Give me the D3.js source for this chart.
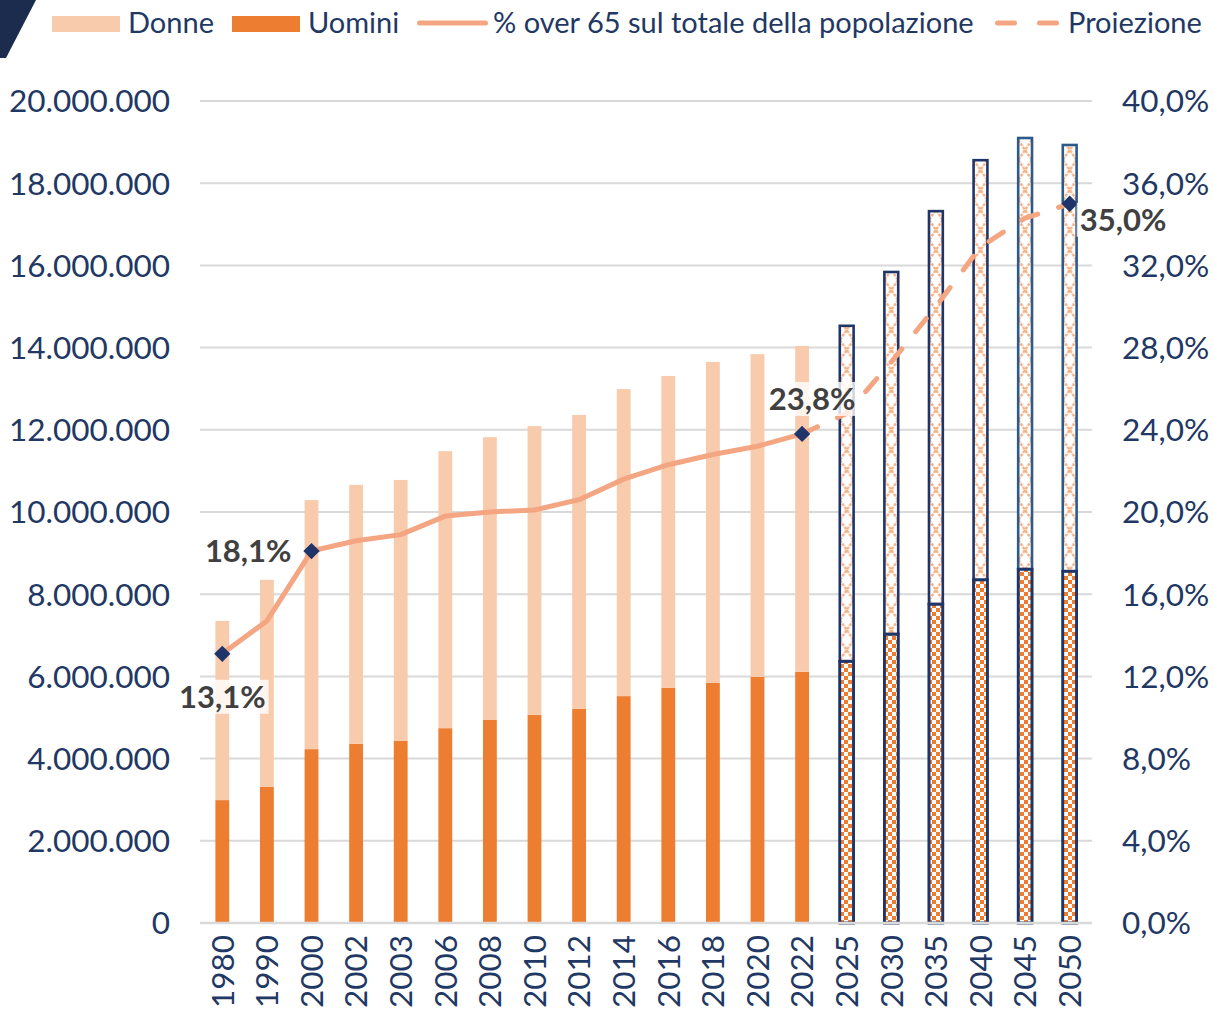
<!DOCTYPE html>
<html><head><meta charset="utf-8">
<script src="https://cdn.jsdelivr.net/npm/d3@7"></script>
<style>
html,body{margin:0;padding:0;background:#fff;}
text{font-family:Lato, "Noto Sans", sans-serif;}
</style></head>
<body>
<svg id="chart" width="1214" height="1011"></svg>
<script>
// ---------- DATA ----------
const years = ["1980","1990","2000","2002","2003","2006","2008","2010","2012","2014","2016","2018","2020","2022","2025","2030","2035","2040","2045","2050"];
const men   = [2990000,3310000,4230000,4360000,4430000,4740000,4940000,5060000,5210000,5520000,5720000,5840000,5990000,6110000,6370000,7030000,7760000,8350000,8610000,8560000];
const women = [4360000,5040000,6060000,6300000,6350000,6740000,6880000,7030000,7150000,7470000,7590000,7810000,7850000,7930000,8160000,8810000,9560000,10210000,10490000,10370000];
const projectedYears = ["2025","2030","2035","2040","2045","2050"];
const pctYears = ["1980","1990","2000","2002","2003","2006","2008","2010","2012","2014","2016","2018","2020","2022"];
const pctValues = [13.1,14.7,18.1,18.6,18.9,19.8,20.0,20.1,20.6,21.6,22.3,22.8,23.2,23.8];
const projYears = ["2022","2025","2030","2035","2040","2045","2050"];
const projValues = [23.8,24.8,27.3,30.0,32.9,34.3,35.0];
const markedYears = ["1980","2000","2022","2050"];
const leftTicks = [0,2000000,4000000,6000000,8000000,10000000,12000000,14000000,16000000,18000000,20000000];
const rightTicks = [0,4,8,12,16,20,24,28,32,36,40];
const legendLabels = ["Donne","Uomini","% over 65 sul totale della popolazione","Proiezione"];

// ---------- SETUP ----------
const svg = d3.select("#chart");
const C = {women:"#F8CBAD", men:"#ED7D31", line:"#F4A582", navy:"#1F3468", navy2:"#2E5A8A", grid:"#D9D9D9", tick:"#1F3864", label:"#404040"};
const FS = 31.5;
const itLocale = d3.formatLocale({decimal:",", thousands:".", grouping:[3], currency:["€",""]});
const fmtInt = itLocale.format(",d");
const fmtPct = itLocale.format(".1f");

const L = 200, R = 1092, T = 101, B = 923;
const x = d3.scaleBand().domain(years).range([L,R]).paddingInner(0.69).paddingOuter(0.345);
const y = d3.scaleLinear().domain([0,20000000]).range([B,T]);
const y2 = d3.scaleLinear().domain([0,40]).range([B,T]);
const cx = d => x(d) + x.bandwidth()/2;

const data = years.map((yr,i)=>({year:yr, men:men[i], women:women[i], proj: projectedYears.includes(yr)}));

// corner decoration
svg.append("polygon").attr("points","0,0 36,0 6,58 0,58").attr("fill","#1B2C4E");

// defs / patterns
const defs = svg.append("defs");
const checker = defs.append("pattern").attr("id","checker").attr("patternUnits","userSpaceOnUse")
  .attr("width",8).attr("height",8);
checker.append("rect").attr("width",8).attr("height",8).attr("fill","#fff");
checker.append("rect").attr("width",4).attr("height",4).attr("fill",C.men);
checker.append("rect").attr("x",4).attr("y",4).attr("width",4).attr("height",4).attr("fill",C.men);

data.filter(d=>d.proj).forEach(d=>{
  const w = x.bandwidth();
  const p = defs.append("pattern").attr("id","cross"+d.year).attr("patternUnits","userSpaceOnUse")
    .attr("x", x(d.year)).attr("y", 0).attr("width", w).attr("height", 20);
  p.append("rect").attr("width",w).attr("height",20).attr("fill","#fff");
  p.append("path").attr("d",`M0,0 L${w},20 M${w},0 L0,20`)
    .attr("stroke","#F4B183").attr("stroke-width",2.4).attr("stroke-dasharray","3,1.2").attr("fill","none");
});

// grid
svg.append("g").selectAll("line").data(leftTicks).join("line")
  .attr("x1",L).attr("x2",R).attr("y1",d=>y(d)).attr("y2",d=>y(d))
  .attr("stroke",C.grid).attr("stroke-width",2);

// left tick labels
svg.append("g").selectAll("text").data(leftTicks).join("text")
  .attr("x",170).attr("y",d=>y(d))
  .attr("dy","0.36em").attr("text-anchor","end")
  .attr("font-size",FS).attr("fill",C.tick).text(d=>fmtInt(d));

// right tick labels
svg.append("g").selectAll("text").data(rightTicks).join("text")
  .attr("x",1122).attr("y",d=>y2(d))
  .attr("dy","0.36em").attr("text-anchor","start")
  .attr("font-size",FS).attr("fill",C.tick).text(d=>fmtPct(d)+"%");

// x labels
svg.append("g").selectAll("text").data(years).join("text")
  .attr("transform",d=>`translate(${cx(d)},935) rotate(-90)`)
  .attr("dy","0.36em").attr("text-anchor","end")
  .attr("font-size",FS).attr("fill",C.tick).text(d=>d);

// bars
const bars = svg.append("g");
bars.selectAll("rect.men").data(data).join("rect").attr("class","men")
  .attr("x",d=>x(d.year)).attr("width",x.bandwidth())
  .attr("y",d=>y(d.men)).attr("height",d=>y(0)-y(d.men))
  .attr("fill",d=>d.proj?"url(#checker)":C.men)
  .attr("stroke",d=>d.proj?C.navy:"none").attr("stroke-width",2.6);
bars.selectAll("rect.women").data(data).join("rect").attr("class","women")
  .attr("x",d=>x(d.year)).attr("width",x.bandwidth())
  .attr("y",d=>y(d.men+d.women)).attr("height",d=>y(d.men)-y(d.men+d.women))
  .attr("fill",d=>d.proj?`url(#cross${d.year})`:C.women)
  .attr("stroke",d=>d.proj?((d.year==="2045"||d.year==="2050")?C.navy2:C.navy):"none").attr("stroke-width",2.6);
bars.selectAll("rect.menOutline").data(data.filter(d=>d.proj)).join("rect").attr("class","menOutline")
  .attr("x",d=>x(d.year)).attr("width",x.bandwidth())
  .attr("y",d=>y(d.men)).attr("height",d=>y(0)-y(d.men))
  .attr("fill","none").attr("stroke",C.navy).attr("stroke-width",2.6);

// axis line
svg.append("line").attr("x1",L).attr("x2",R).attr("y1",B).attr("y2",B).attr("stroke",C.grid).attr("stroke-width",2.5);

// lines
const lineGen = d3.line().x(d=>cx(d[0])).y(d=>y2(d[1]));
svg.append("path").datum(pctYears.map((yr,i)=>[yr,pctValues[i]]))
  .attr("d",lineGen).attr("fill","none").attr("stroke",C.line).attr("stroke-width",5)
  .attr("stroke-linecap","round").attr("stroke-linejoin","round");
svg.append("path").datum(projYears.map((yr,i)=>[yr,projValues[i]]))
  .attr("d",lineGen).attr("fill","none").attr("stroke",C.line).attr("stroke-width",5)
  .attr("stroke-linecap","round").attr("stroke-linejoin","round").attr("stroke-dasharray","17,22");

// markers
const allPct = new Map();
pctYears.forEach((yr,i)=>allPct.set(yr,pctValues[i]));
projYears.forEach((yr,i)=>allPct.set(yr,projValues[i]));
svg.append("g").selectAll("path").data(markedYears).join("path")
  .attr("transform",d=>`translate(${cx(d)},${y2(allPct.get(d))})`)
  .attr("d",d3.symbol().type(d3.symbolDiamond2).size(170))
  .attr("fill",C.navy);

// data labels (offsets relative to marker)
const labelOffsets = {"1980":{dx:0,dy:54,anchor:"middle",box:true},
                      "2000":{dx:-20,dy:11,anchor:"end",box:false},
                      "2022":{dx:10,dy:-24,anchor:"middle",box:true},
                      "2050":{dx:10,dy:27,anchor:"start",box:true}};
markedYears.forEach(yr=>{
  const o = labelOffsets[yr];
  const px = cx(yr)+o.dx, py = y2(allPct.get(yr))+o.dy;
  const g = svg.append("g").attr("transform",`translate(${px},${py})`);
  const t = g.append("text").attr("text-anchor",o.anchor).attr("font-size",31).attr("font-weight","bold")
    .attr("fill",C.label).text(fmtPct(allPct.get(yr))+"%");
  if(o.box){
    const bb = t.node().getBBox();
    g.insert("rect","text").attr("x",bb.x-3).attr("y",bb.y+3).attr("width",bb.width+6).attr("height",bb.height-4)
      .attr("fill","#fff").attr("fill-opacity",0.8);
  }
});

// legend
const lg = svg.append("g");
lg.append("rect").attr("x",52).attr("y",16).attr("width",68).attr("height",16).attr("fill",C.women);
lg.append("rect").attr("x",232).attr("y",16).attr("width",68).attr("height",16).attr("fill",C.men);
lg.append("line").attr("x1",419.5).attr("x2",485.5).attr("y1",23).attr("y2",23)
  .attr("stroke",C.line).attr("stroke-width",5).attr("stroke-linecap","round");
lg.append("line").attr("x1",997.5).attr("x2",1057.5).attr("y1",23).attr("y2",23)
  .attr("stroke",C.line).attr("stroke-width",5).attr("stroke-linecap","round").attr("stroke-dasharray","17,25");
const legX = [128,308,493,1068];
legendLabels.forEach((s,i)=>{
  lg.append("text").attr("x",legX[i]).attr("y",33)
    .attr("font-size",29).attr("fill",C.tick).text(s);
});
</script>
</body></html>
